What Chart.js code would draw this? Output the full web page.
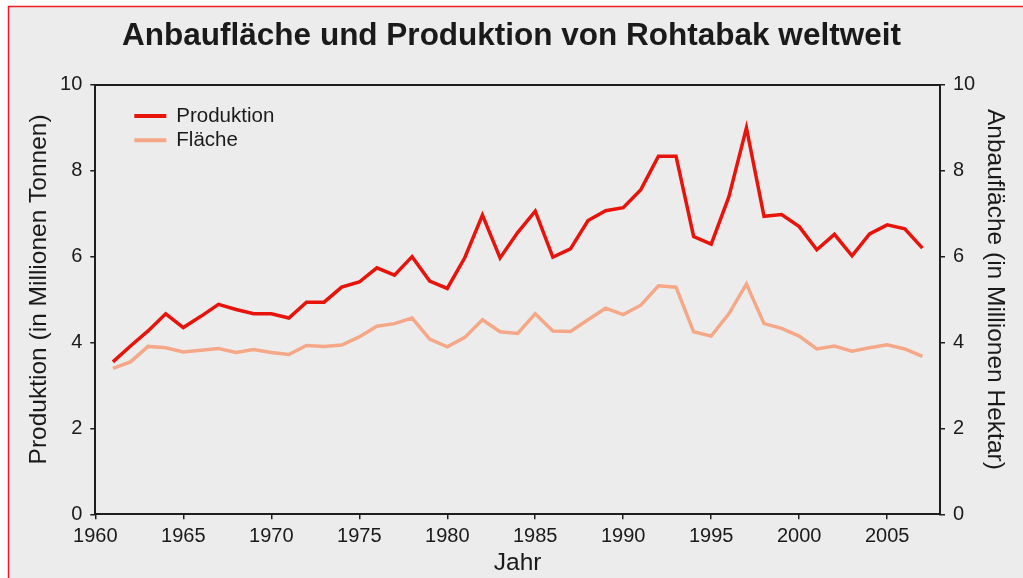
<!DOCTYPE html>
<html>
<head>
<meta charset="utf-8">
<title>Anbaufläche und Produktion von Rohtabak weltweit</title>
<script src="https://cdn.jsdelivr.net/npm/chart.js@4"></script>
<style>
  html, body { margin: 0; padding: 0; background: #fff; }
  #wrap { position: relative; width: 1023px; height: 578px; }
</style>
</head>
<body>
<div id="wrap"><canvas id="tabak" width="1023" height="578"></canvas></div>
<script>
// Jahre (FAO, ab 1961)
var jahre = [1961, 1962, 1963, 1964, 1965, 1966, 1967, 1968, 1969, 1970,
    1971, 1972, 1973, 1974, 1975, 1976, 1977, 1978, 1979, 1980,
    1981, 1982, 1983, 1984, 1985, 1986, 1987, 1988, 1989, 1990,
    1991, 1992, 1993, 1994, 1995, 1996, 1997, 1998, 1999, 2000,
    2001, 2002, 2003, 2004, 2005, 2006, 2007];

// Produktion in Mio. Tonnen
var produktion = [3.55, 3.92, 4.27, 4.67, 4.35, 4.61, 4.89, 4.77, 4.67, 4.67,
    4.57, 4.94, 4.94, 5.29, 5.41, 5.74, 5.57, 6.00, 5.43, 5.26,
    5.98, 6.97, 5.97, 6.56, 7.06, 5.99, 6.18, 6.84, 7.07, 7.14,
    7.56, 8.34, 8.34, 6.47, 6.29, 7.39, 9.00, 6.94, 6.98, 6.70,
    6.16, 6.52, 6.02, 6.53, 6.74, 6.65, 6.20];

// Anbaufläche in Mio. Hektar
var flaeche = [3.40, 3.55, 3.91, 3.88, 3.78, 3.82, 3.86, 3.77, 3.84, 3.77,
    3.72, 3.93, 3.91, 3.94, 4.13, 4.38, 4.44, 4.57, 4.08, 3.90,
    4.12, 4.53, 4.25, 4.21, 4.67, 4.27, 4.26, 4.53, 4.80, 4.65,
    4.87, 5.32, 5.29, 4.25, 4.15, 4.67, 5.36, 4.44, 4.33, 4.15,
    3.85, 3.92, 3.80, 3.88, 3.95, 3.85, 3.68];

var xMin = 1960, xMax = 2008, xStep = 5;
var yMin = 0, yMax = 10, yStep = 2;

var schrift = '"Liberation Sans", Arial, sans-serif';
var achse = '#1e1e1e';
var luecke = '\u00A0\u00A0\u00A0'; // schiebt die Achsentitel etwas nach oben

function punkte(werte) {
    return jahre.map(function (j, i) { return { x: j, y: werte[i] }; });
}

// Hintergrund mit rotem Rahmen
var hintergrund = {
    id: 'hintergrund',
    beforeDraw: function (chart) {
        var c = chart.ctx;
        c.save();
        c.fillStyle = '#ffffff';
        c.fillRect(0, 0, chart.width, chart.height);
        c.fillStyle = '#ececec';
        c.fillRect(8, 6, chart.width - 8, chart.height - 6);
        c.strokeStyle = '#ee1c25';
        c.lineWidth = 1.5;
        c.beginPath();
        c.moveTo(8.5, chart.height);
        c.lineTo(8.5, 6.5);
        c.lineTo(chart.width, 6.5);
        c.stroke();
        c.restore();
    }
};

// Legende oben links im Diagramm
var legende = {
    id: 'legende',
    afterDraw: function (chart) {
        var c = chart.ctx;
        var x0 = chart.chartArea.left + 39;
        var y0 = chart.chartArea.top + 31;
        c.save();
        c.font = '20.5px ' + schrift;
        c.textBaseline = 'middle';
        chart.data.datasets.forEach(function (ds, i) {
            var y = y0 + i * 24.3;
            c.strokeStyle = ds.borderColor;
            c.lineWidth = 4;
            c.beginPath();
            c.moveTo(x0, y);
            c.lineTo(x0 + 32, y);
            c.stroke();
            c.fillStyle = '#1a1a1a';
            c.fillText(ds.label, x0 + 42, y);
        });
        c.restore();
    }
};

var ctx = document.getElementById('tabak').getContext('2d');
var chart = new Chart(ctx, {
    type: 'line',
    data: {
        datasets: [{
            label: 'Produktion',
            data: punkte(produktion),
            borderColor: '#e8140c',
            borderWidth: 3.5,
            pointRadius: 0,
            yAxisID: 'y',
            tension: 0
        }, {
            label: 'Fläche',
            data: punkte(flaeche),
            borderColor: '#f5a888',
            borderWidth: 3.5,
            pointRadius: 0,
            yAxisID: 'y1',
            tension: 0
        }]
    },
    options: {
        responsive: false,
        animation: false,
        layout: { padding: { top: 17.4, left: 0, right: 0, bottom: 0 } },
        plugins: {
            legend: { display: false },
            tooltip: { enabled: false },
            title: {
                display: true,
                text: 'Anbaufläche und Produktion von Rohtabak weltweit',
                color: '#1a1a1a',
                font: { family: schrift, size: 31.5, weight: 'bold', lineHeight: 1.2 },
                padding: { top: 0, bottom: 29.7 }
            }
        },
        scales: {
            x: {
                type: 'linear',
                position: 'bottom',
                min: xMin,
                max: xMax,
                afterFit: function (s) { s.height = 63.7; },
                ticks: {
                    stepSize: xStep,
                    includeBounds: false,
                    color: '#1a1a1a',
                    font: { family: schrift, size: 20 },
                    padding: 5,
                    maxRotation: 0,
                    callback: function (v) { return String(v); }
                },
                grid: { display: true, drawOnChartArea: false, drawTicks: true, tickLength: 5, color: achse, lineWidth: 1.5 },
                border: { display: true, color: achse, width: 2 },
                title: {
                    display: true,
                    text: 'Jahr',
                    color: '#1a1a1a',
                    font: { family: schrift, size: 24.5, lineHeight: 1.2 },
                    padding: { top: 0, bottom: 0.5 }
                }
            },
            oben: {
                type: 'linear',
                position: 'top',
                min: xMin,
                max: xMax,
                afterFit: function (s) { s.height = 0; },
                ticks: { display: false },
                grid: { display: false },
                border: { display: true, color: achse, width: 2 }
            },
            y: {
                type: 'linear',
                position: 'left',
                min: yMin,
                max: yMax,
                afterFit: function (s) { s.width = 95.3; },
                ticks: {
                    stepSize: yStep,
                    color: '#1a1a1a',
                    font: { family: schrift, size: 20 },
                    padding: 8
                },
                grid: { display: true, drawOnChartArea: false, drawTicks: true, tickLength: 5, color: achse, lineWidth: 1.5 },
                border: { display: true, color: achse, width: 2 },
                title: {
                    display: true,
                    text: luecke + 'Produktion (in Millionen Tonnen)',
                    color: '#1a1a1a',
                    font: { family: schrift, size: 24.5, lineHeight: 1.2 },
                    padding: { top: 24.3, bottom: 0 }
                }
            },
            y1: {
                type: 'linear',
                position: 'right',
                min: yMin,
                max: yMax,
                afterFit: function (s) { s.width = 83; },
                ticks: {
                    stepSize: yStep,
                    color: '#1a1a1a',
                    font: { family: schrift, size: 20 },
                    padding: 8
                },
                grid: { display: true, drawOnChartArea: false, drawTicks: true, tickLength: 5, color: achse, lineWidth: 1.5 },
                border: { display: true, color: achse, width: 2 },
                title: {
                    display: true,
                    text: 'Anbaufläche (in Millionen Hektar)' + luecke,
                    color: '#1a1a1a',
                    font: { family: schrift, size: 24.5, lineHeight: 1.2 },
                    padding: { top: 13.3, bottom: 0 }
                }
            }
        }
    },
    plugins: [hintergrund, legende]
});
</script>
</body>
</html>
